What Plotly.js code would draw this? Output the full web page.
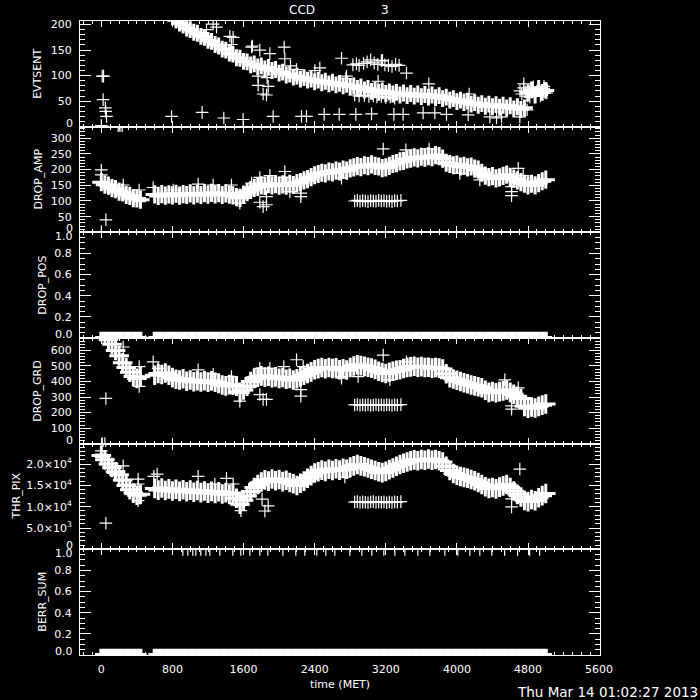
<!DOCTYPE html>
<html><head><meta charset="utf-8">
<script src="https://cdn.plot.ly/plotly-3.0.1.min.js"></script>
<style>html,body{margin:0;padding:0;background:#000;}#chart{width:700px;height:700px;}</style>
</head><body><div id="chart"></div>
<script>
// ---- shared sample times (MET) ----
const time = [0,40,80,120,160,200,240,280,320,360,400,440,
600,640,680,720,760,800,840,880,920,960,1000,1040,1080,1120,1160,1200,1240,1280,1320,1360,
1400,1440,1480,1520,1560,1600,1640,1680,1720,1760,1800,1840,1880,1920,1960,2000,2040,2080,2120,2160,
2200,2240,2280,2320,2360,2400,2440,2480,2520,2560,2600,2640,2680,2720,2760,2800,2840,2880,2920,2960,
3000,3040,3080,3120,3160,3200,3240,3280,3320,3360,3400,3440,3480,3520,3560,3600,3640,3680,3720,3760,
3800,3840,3880,3920,3960,4000,4040,4080,4120,4160,4200,4240,4280,4320,4360,4400,4440,4480,4520,4560,
4600,4640,4680,4720,4760,4800,4840,4880,4920,4960,5000];

const evtsent = [330,325,318,312,305,300,294,288,283,278,272,267,
246,240,235,228,222,215,209,203,199,193,190,185,183,177,175,169,167,161,158,152,
150,144,142,135,134,128,127,121,123,117,119,113,116,110,112,105,107,101,103,97,
99,93,96,91,93,88,91,86,89,84,87,82,85,80,83,78,80,75,78,72,
75,69,72,67,70,65,68,64,67,62,66,61,65,60,64,59,63,58,62,57,
61,55,58,52,55,49,52,47,50,44,47,42,45,40,44,39,43,38,42,37,
41,35,39,34,37,66,72,62,75,67,71];

const dropAmp = [160,152,149,141,138,130,127,119,116,109,108,104,
121,116,122,117,121,118,123,117,122,119,124,118,123,119,125,120,126,121,125,119,
124,120,118,112,110,120,128,135,142,145,150,148,154,150,154,149,153,149,155,151,
157,160,166,170,176,182,186,190,188,194,191,197,194,200,197,204,207,211,208,214,
211,217,212,210,205,207,212,218,221,226,228,233,235,239,236,241,238,243,240,246,
243,235,222,218,214,216,210,212,207,210,203,200,190,181,176,179,172,175,180,184,
177,171,166,160,155,150,155,150,157,163,168];

const dropPos = [0,0,0,0,0,0,0,0,0,0,0,0,
0,0,0,0,0,0,0,0,0,0,0,0,0,0,0,0,0,0,0,0,
0,0,0,0,0,0,0,0,0,0,0,0,0,0,0,0,0,0,0,0,
0,0,0,0,0,0,0,0,0,0,0,0,0,0,0,0,0,0,0,0,
0,0,0,0,0,0,0,0,0,0,0,0,0,0,0,0,0,0,0,0,
0,0,0,0,0,0,0,0,0,0,0,0,0,0,0,0,0,0,0,0,
0,0,0,0,0,0,0,0,0,0,0];

const dropGrd = [720,700,670,640,600,565,520,490,460,432,420,430,
440,452,445,455,440,425,415,410,418,402,410,398,406,397,405,396,404,395,388,378,
372,380,376,370,330,345,370,400,420,428,436,428,434,425,430,420,426,415,420,410,
418,430,440,452,462,476,483,490,482,490,484,488,476,482,474,490,500,508,502,498,
492,486,478,466,458,452,460,466,472,476,484,490,494,498,492,496,490,492,486,490,
486,480,450,425,416,408,400,392,386,378,372,366,360,344,330,336,328,335,340,345,
330,318,305,290,240,228,236,230,240,248,255];

const thrPix = [22000,21000,20000,19200,18200,17500,16300,15000,14000,13200,12700,12900,
14300,13900,14400,13800,14200,13700,14100,13600,14000,13500,13900,13400,13800,13300,13700,13200,13600,13100,13500,13000,
13300,12900,13200,12000,10600,11500,12500,13600,14500,15200,15800,16300,16000,16500,16100,16400,15900,16200,15700,15400,
15000,15500,16000,16700,17300,17900,18200,18600,18300,18800,18500,18900,18600,19000,18800,19300,19600,19900,19600,19400,
19100,18800,18500,18200,18000,18300,18700,19100,19500,19900,20200,20500,20800,21000,20800,21100,20900,21200,20900,21100,
20800,20500,19500,18500,17800,17400,17100,16900,16700,16400,16100,15700,15200,14700,14300,14500,14200,14600,14900,15200,
14500,13700,12900,12300,11500,11200,11700,11400,12100,12600,13100];

const berrSum = [0,0,0,0,0,0,0,0,0,0,0,0,
0,0,0,0,0,0,0,0,0,0,0,0,0,0,0,0,0,0,0,0,
0,0,0,0,0,0,0,0,0,0,0,0,0,0,0,0,0,0,0,0,
0,0,0,0,0,0,0,0,0,0,0,0,0,0,0,0,0,0,0,0,
0,0,0,0,0,0,0,0,0,0,0,0,0,0,0,0,0,0,0,0,
0,0,0,0,0,0,0,0,0,0,0,0,0,0,0,0,0,0,0,0,
0,0,0,0,0,0,0,0,0,0,0];

// ---- scattered records ----
const evtOutT = [0,10,25,20,45,50,58,790,1134,1378,1595,1933,2252,2308,2507,2676,
1183,1258,1296,1446,1483,1464,1690,1700,1783,1896,2057,2064,2128,1764,1865,1764,1877,1820,1858,
2196,2402,2458,2702,2758,3163,3433,3684,4138,2751,3114,4753,4978,
2863,3040,3291,3395,3620,3752,3883,4127,4371,4446,4502,4708,4790,
2830,2870,2900,2950,2990,3030,3070,3110,3150,3190,3230,3270,3310,3350,
2850,2900,2960,3010,3060,3100,3150,3200,3250,3300,
4710,4730,4750,4770,4790,4820,4860,4900,4940,4980,5010,5020];
const evtOutV = [2,99,99,53,37,30,20,20,28,17,14,20,20,20,24,24,
190,201,195,177,175,161,156,158,150,143,156,133,119,99,96,81,79,64,62,
112,110,115,134,99,130,105,84,64,94,89,84,75,
24,25,24,24,27,27,24,23,19,17,19,19,33,
121,123,120,124,127,131,125,122,129,121,120,118,122,120,
62,60,61,59,60,58,59,57,58,56,
70,64,76,68,60,58,78,70,60,79,66,72];

const ampOutT = [0,0,0,51,246,425,433,583,808,1089,1258,1464,1558,1690,1783,1896,2064,2064,
1783,1820,1858,1858,2121,2244,2244,190,210,235,3171,3426,3688,2702,4033,4258,4690,4746,4615,4615,4615,
2850,2880,2910,2940,2970,3000,3030,3060,3090,3120,3150,3180,3210,3240,3270,3300,3330,3370];
const ampOutV = [199,183,2,40,151,135,98,143,135,154,151,151,93,157,175,181,194,175,
96,82,88,114,130,125,114,340,340,340,266,263,266,173,188,167,204,181,146,130,117,
100,102,99,101,100,98,101,100,99,102,100,101,99,100,98,101,100,102];

const grdOutT = [10,40,51,246,426,426,583,639,1089,1258,1464,1558,1783,1896,1783,1820,1858,
2053,2196,2271,2244,2244,2702,3171,3433,4539,4690,4615,4615,2702,2889,3246,
2850,2880,2910,2940,2970,3000,3030,3060,3090,3120,3150,3180,3210,3240,3270,3300,3330,3370];
const grdOutV = [0,0,291,622,496,369,527,485,475,447,432,274,485,485,316,285,285,
496,540,496,348,306,422,570,527,411,359,243,222,432,432,411,
249,252,247,250,248,251,246,249,252,248,250,247,251,249,246,250,248,251];

const thrOutT = [0,0,0,20,50,51,246,414,414,414,591,628,1089,1277,1408,1483,1558,1570,1808,1840,1877,2740,4708,4615,4615,
2850,2880,2910,2940,2970,3000,3030,3060,3090,3120,3150,3180,3210,3240,3270,3300,3330,3370];
const thrOutV = [23100,22350,21570,25500,25500,6130,19600,16500,15330,11420,17130,17670,17130,15330,16660,15330,10250,9080,11800,9000,10200,16960,18840,11820,9950,
11100,11200,11000,11150,11050,10950,11100,11200,11000,11100,11050,11150,10950,11100,11000,11150,11050,11200];

const berrOneT = [917,973,1029,1063,1119,1176,1221,1333,1479,1569,1671,1783,1873,2042,2188,2289,2424,2526,2627,
2796,2931,3043,3178,3302,3415,3561,3696,3865,4011,4146,4258,4393,4537,4683,4818,4931];
const berrOneV = [1,1,1,1,1,1,1,1,1,1,1,1,1,1,1,1,1,1,1,1,1,1,1,1,1,1,1,1,1,1,1,1,1,1,1,1];

// ---- axis labels / ticks ----
const panelNames = ['EVTSENT','DROP_AMP','DROP_POS','DROP_GRD','THR_PIX','BERR_SUM'];
const thrTickVals = [0,5000,10000,15000,20000];
const thrTickText = ['0','5.0\u00d710<sup>3</sup>','1.0\u00d710<sup>4</sup>','1.5\u00d710<sup>4</sup>','2.0\u00d710<sup>4</sup>'];
const titleText = ['CCD','3'];
const xTitle = 'time (MET)';
const stamp = 'Thu Mar 14 01:02:27 2013';

const panels = [
  {y: evtsent, ot: evtOutT, ov: evtOutV, range:[0,207], dtick:50, minor:10, tx:38, band:12},
  {y: dropAmp, ot: ampOutT, ov: ampOutV, range:[0,337], dtick:50, minor:10, tx:38, band:13},
  {y: dropPos, ot: [], ov: [], range:[0,1], dtick:0.2, minor:0.05, fmt:1, tx:42.5, band:0},
  {y: dropGrd, ot: grdOutT, ov: grdOutV, range:[0,680], dtick:100, minor:20, tx:38, band:14},
  {y: thrPix, ot: thrOutT, ov: thrOutV, range:[0,24800], minor:1000, tv:thrTickVals, tt:thrTickText, tx:16, band:14},
  {y: berrSum, ot: berrOneT, ov: berrOneV, range:[0,1], dtick:0.2, minor:0.05, fmt:1, tx:42.5, band:0}
];

const W=700,H=700,ML=80,MR=100,MT=21,MB=45;
const PW=W-ML-MR, PH=H-MT-MB;
const px2x = p => (p-ML)/PW;
const py2y = p => (H-MB-p)/PH;

const thin = {symbol:'cross-thin-open', size:9, color:'white', line:{color:'white', width:1.2}};
const flat = {symbol:'cross-thin-open', size:9, color:'white', line:{color:'white', width:4}};
const traces = [];
const layout = {
  width:W, height:H, paper_bgcolor:'black', plot_bgcolor:'black',
  margin:{l:ML,r:MR,t:MT,b:MB}, showlegend:false, hovermode:false,
  font:{family:'DejaVu Sans', size:11, color:'white'},
  annotations:[]
};
const xbase = {range:[-240,5610], showgrid:false, zeroline:false, showline:true, linecolor:'white', linewidth:1,
  mirror:'allticks', ticks:'inside', ticklen:6, tickwidth:1, tickcolor:'white', tickmode:'linear', tick0:0, dtick:800,
  ticklabelstandoff:4, tickfont:{size:11, color:'white'},
  minor:{tickmode:'linear', tick0:0, dtick:100, ticks:'inside', ticklen:3, tickcolor:'white', showgrid:false}};

function edgeLabel(text, py){
  layout.annotations.push({text:text, xref:'paper', yref:'paper', x:px2x(75), y:py2y(py),
    xanchor:'right', yanchor:'middle', showarrow:false, font:{size:11,color:'white'}});
}

panels.forEach((p,i)=>{
  const k=i+1;
  const xa = k===1?'x':'x'+k, ya = k===1?'y':'y'+k;
  const xk = k===1?'xaxis':'xaxis'+k, yk = k===1?'yaxis':'yaxis'+k;
  const bandMarker = p.band ? {symbol:'cross-thin-open', size:p.band, color:'white', line:{color:'white', width:3}} : flat;
  traces.push({type:'scatter', mode:'markers', x: time, y: p.y,
    xaxis:xa, yaxis:ya, marker: bandMarker, cliponaxis:true, hoverinfo:'skip'});
  if (p.ot.length) traces.push({type:'scatter', mode:'markers', x: p.ot, y: p.ov,
    xaxis:xa, yaxis:ya, marker:thin, cliponaxis:true, hoverinfo:'skip'});
  layout[xk] = Object.assign({}, xbase, {anchor:ya, showticklabels: k===6});

  // tick values and labels; labels on the frame edges are drawn nudged inward
  let vals, txt;
  if (p.tv) { vals = p.tv.slice(); txt = p.tt.slice(); }
  else {
    vals = []; txt = [];
    for (let n=0; n*p.dtick <= p.range[1]+1e-9; n++) {
      const v = +(n*p.dtick).toFixed(6);
      vals.push(v); txt.push(p.fmt ? v.toFixed(p.fmt) : String(v));
    }
  }
  const top = MT + i*PH/6, bot = MT + (i+1)*PH/6;
  vals.forEach((v,j)=>{
    if (v === p.range[0]) { edgeLabel(txt[j], bot-3.5); txt[j]=''; }
    else if (Math.abs(v-p.range[1])<1e-9) { edgeLabel(txt[j], top+4); txt[j]=''; }
  });
  const yax = {domain:[(5-i)/6,(6-i)/6], anchor:xa, range:p.range, showgrid:false, zeroline:false,
    showline:true, linecolor:'white', linewidth:1, mirror:'allticks', ticks:'inside', ticklen:11, tickwidth:1,
    tickcolor:'white', ticklabelstandoff:5, tickfont:{size:11,color:'white'},
    tickmode:'array', tickvals:vals, ticktext:txt,
    minor:{tickmode:'linear', tick0:0, dtick:p.minor, ticks:'inside', ticklen:5, tickcolor:'white', showgrid:false}};
  layout[yk] = yax;
  layout.annotations.push({text:panelNames[i], xref:'paper', yref:'paper', x:px2x(p.tx), y:(11-2*i)/12,
    xanchor:'center', yanchor:'middle', textangle:-90, showarrow:false, font:{size:11,color:'white'}});
});

layout.annotations.push({text:titleText[0], xref:'paper', yref:'paper', x:px2x(302), y:py2y(10), xanchor:'center', yanchor:'middle', showarrow:false, font:{size:12,color:'white'}});
layout.annotations.push({text:titleText[1], xref:'paper', yref:'paper', x:px2x(385), y:py2y(10), xanchor:'center', yanchor:'middle', showarrow:false, font:{size:12,color:'white'}});
layout.annotations.push({text:xTitle, xref:'paper', yref:'paper', x:px2x(340), y:py2y(684), xanchor:'center', yanchor:'middle', showarrow:false, font:{size:11,color:'white'}});
layout.annotations.push({text:stamp, xref:'paper', yref:'paper', x:px2x(700), y:py2y(692), xanchor:'right', yanchor:'middle', showarrow:false, font:{size:13.5,color:'white'}});

Plotly.newPlot('chart', traces, layout, {staticPlot:true, displayModeBar:false});
</script>
</body></html>
